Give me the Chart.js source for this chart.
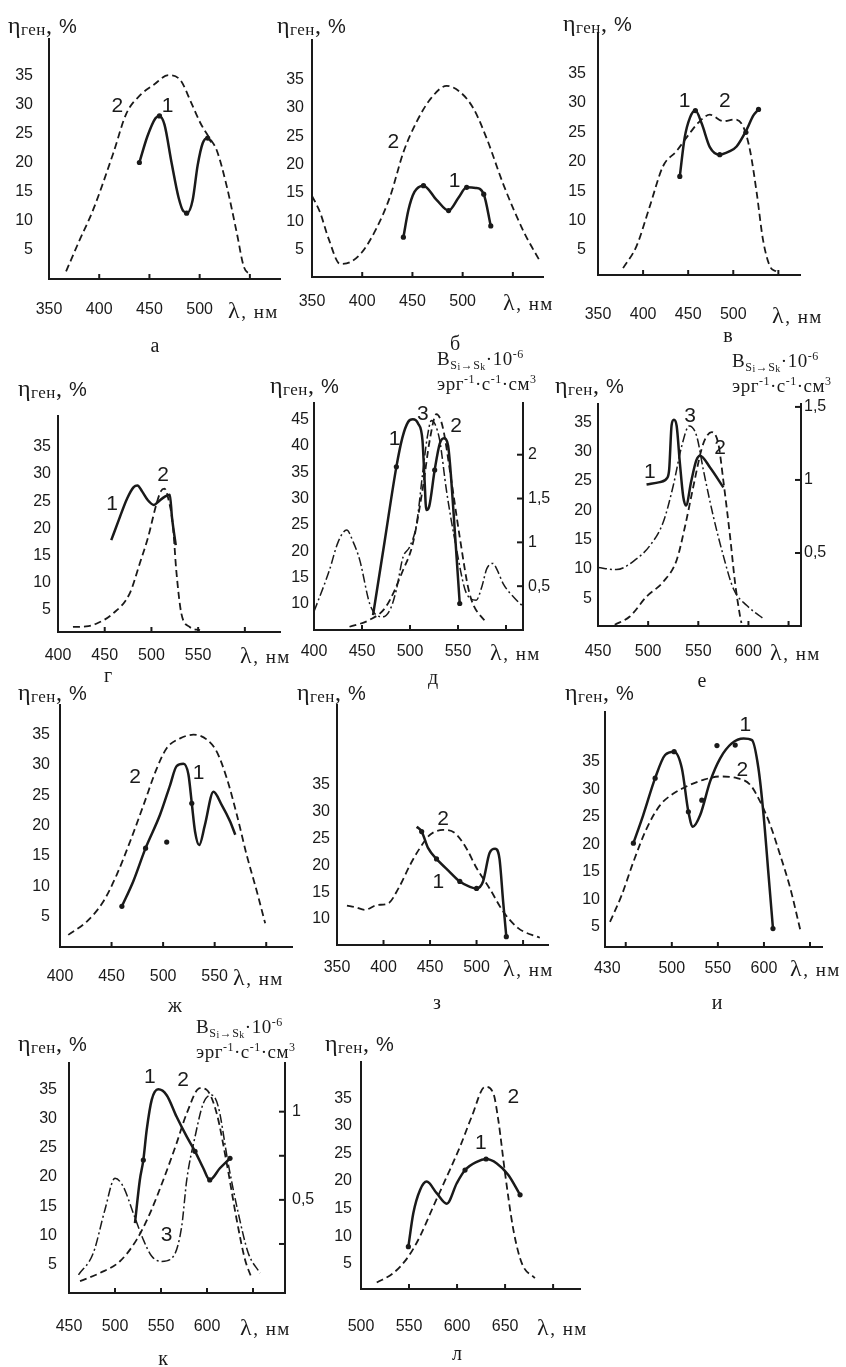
<!DOCTYPE html>
<html>
<head>
<meta charset="utf-8">
<script src="https://cdn.jsdelivr.net/npm/chart.js@4.4.1/dist/chart.umd.min.js"></script>
<style>
body { margin: 0; background: #fff; }
#page { position: relative; width: 846px; height: 1367px; overflow: hidden; background: #fff; }
canvas { position: absolute; }
.t { position: absolute; white-space: nowrap; color: #1a1a1a; line-height: 1; }
.yt { font-family: 'Liberation Serif', serif; font-size: 24px; letter-spacing: 0.5px; }
.yt sub { font-size: 17px; vertical-align: -2px; }
.pc { font-family: 'Liberation Sans', sans-serif; font-size: 20px; }
.xu { font-family: 'Liberation Serif', serif; font-size: 19px; letter-spacing: 1.5px; }
.xu .lam { font-size: 24px; }
.bt { font-family: 'Liberation Serif', serif; font-size: 19px; letter-spacing: 0.5px; }
.bt sub { font-size: 12px; vertical-align: -4px; }
.bt sub sub { font-size: 10px; vertical-align: -1px; }
.bt sup { font-size: 12px; vertical-align: 7px; }
.pl { font-family: 'Liberation Serif', serif; font-size: 20px; }
.cl { font-family: 'Liberation Sans', sans-serif; font-size: 21px; }
</style>
</head>
<body>
<div id="page"></div>
<script>
// подписи осей
const yl35 = [5, 10, 15, 20, 25, 30, 35];
const yl45 = [10, 15, 20, 25, 30, 35, 40, 45];
const yl35from10 = [10, 15, 20, 25, 30, 35];

// а
const a_c1 = [[440,20],[448,24.5],[456,27.6],[460,28],[465,26.5],[472,20],[479,14],[484,11.6],[488,11.4],[493,13.5],[498,19.5],[503,23.3],[508,24.2],[512,23.5]];
const a_c2 = [[367,1.3],[380,6.5],[394,11.9],[414,21.6],[427,28.4],[441,31.6],[454,33.3],[469,35],[481,34.1],[492,30.1],[501,26.7],[509,24.4],[517,22.1],[527,15.9],[537,7.9],[544,2.1],[551,0.7]];
const a_dots = [[440,20],[460,28],[487,11.3],[508,24.2]];
const a_lab = [['2',418,30.1],['1',468,30]];

// б
const b_c1 = [[441,7.2],[446,12],[452,15.2],[461,16.3],[474,13.8],[486,11.9],[496,14.2],[504,16],[513,15.9],[521,14.8],[528,9.2]];
const b_c2 = [[350,14.5],[358,11.6],[366.6,6.9],[378,2.5],[388,2.8],[399.5,4.5],[414,8.7],[428,14.5],[441,22.2],[454,27.5],[468,31.6],[484,33.9],[497.6,32.8],[510.8,29.9],[524,24.6],[541,16.3],[561,8.1],[577.5,2.8]];
const b_dots = [[441,7.2],[461,16.3],[486,11.9],[504,16],[521,14.8],[528,9.2]];
const b_lab = [['2',431,24.3],['1',492,17.5]];

// в
const c_c1 = [[440.7,17.5],[446,24],[452,27.5],[458,28.7],[465,26.5],[474,22.5],[485,21.2],[495,21.7],[503.7,22.6],[515,25.5],[522,27.8],[528,28.9]];
const c_c2 = [[377.8,1.9],[392.6,5.6],[407.4,12.4],[422,19.2],[437,21.8],[452,24.9],[461,26.6],[474,28],[489,26.9],[502,27.2],[511,26],[518.5,22],[526,14.7],[533,6.7],[540.7,2.2],[548,1.3]];
const c_dots = [[440.7,17.5],[458,28.7],[485,21.2],[514,25],[528,28.9]];
const c_lab = [['1',446,30.6],['2',490.7,30.6]];

// г
const d_c1 = [[457,17.8],[465,21.5],[474,25.5],[481,27.6],[485,27.9],[490,26.8],[496,25.2],[502.6,24.3],[508,25],[514,25.8],[519.7,26.2],[522,22],[526,16.9]];
const d_c2 = [[416,1.8],[430,1.9],[441,2.4],[459,4.3],[476.8,8],[487.5,13.5],[496.5,18.4],[505.4,24.5],[510,26.8],[514,27.3],[518,25.5],[523,20.5],[526.6,12.2],[532,4.3],[541,1.8],[552,1.2]];
const d_lab = [['1',458,24.8],['2',512.5,30.1]];

// д
const e_c1 = [[461.5,7.9],[473.6,21.9],[485.8,36],[492,41.5],[498,44.5],[503,45],[508.4,44.2],[513,41],[515,34.1],[517,27.8],[520,28.5],[525.7,35.4],[531,40.4],[535.4,41.4],[539.6,40.1],[543,33.5],[546.6,24],[551.8,10.1]];
const e_c2 = [[437,5.7],[458,7],[475,9.5],[492.7,16.4],[503,21.5],[513.5,32.2],[520.5,41],[527.5,46],[534,43.6],[543,33.5],[551.8,22.7],[562,12],[579.6,6.3]];
const e_c3 = [[400,0.21],[416,0.68],[425,1.0],[434,1.14],[441,1.0],[447.6,0.8],[458,0.3],[465,0.17],[472,0.15],[480,0.25],[485.8,0.46],[492.7,0.83],[499.7,0.95],[506.7,1.2],[513.5,1.82],[518,2.2],[522.3,2.39],[526,2.35],[531,2.16],[538,1.59],[548,0.95],[558.7,0.42],[569,0.34],[575,0.5],[580,0.7],[586.5,0.76],[591,0.68],[597,0.53],[611,0.34],[617.7,0.27]];
const e_dots = [[485.8,36],[525.7,35.4],[551.8,10.1]];
const e_lab = [['1',484,41.7],['3',513.5,46.4],['2',548,44.2]];

// е
const f_c1 = [[498.4,24.4],[511.7,24.8],[519,25.5],[521,27],[523.4,34.5],[525.7,35.4],[528.4,34.4],[531.7,27.9],[535,22.3],[537.7,20.8],[543,25],[548,28.5],[551.7,29.3],[561.7,27.3],[575,23.9]];
const f_c2 = [[466.7,0.5],[481.7,1.9],[498.4,5.3],[515,7.8],[528.4,11.5],[536.7,17.2],[545,24],[553.4,30.5],[558,32.5],[563.4,33.3],[570,31.3],[575,25],[581.7,15.5],[586.7,7.6],[591.7,1.9],[593,0.8]];
const f_c3 = [[450,0.4],[468.4,0.386],[488.4,0.46],[501.7,0.55],[515,0.71],[525,0.96],[533.4,1.23],[541,1.37],[548.4,1.3],[555,1.07],[565,0.75],[575,0.48],[585,0.255],[598.4,0.14],[615,0.05]];
const f_lab = [['1',501.7,26.8],['3',541.7,36.4],['2',571.7,31]];

// ж
const g_c1 = [[460,6.7],[471,10.8],[483,16.3],[497,21.8],[506.8,26.7],[513,29.8],[519.7,30.2],[524.6,28.4],[527.8,23.7],[531,19],[535,16.8],[540.5,20.1],[548.8,25.6],[556.9,23.4],[565,20.7],[570,18.5]];
const g_c2 = [[408,2],[426,4.2],[442,7.5],[455,11.9],[468,17.4],[481,23.4],[494,29.5],[503.6,32.8],[516.5,34.4],[529.4,35],[542.4,34.2],[552,32.2],[561.8,27.8],[571.5,21.8],[581,15.2],[591,9.1],[599,3.9]];
const g_dots = [[460,6.7],[483,16.3],[527.8,23.7],[503.5,17.3]];
const g_lab = [['2',472.8,28.4],['1',534.3,29]];

// з
const h_c1 = [[435.7,27.2],[441,26.3],[448,23.2],[457,21.2],[471,18.8],[482,17],[492.9,16],[500,15.7],[507,17],[514,22.3],[520,23.1],[524.6,21.3],[528.6,13.2],[532,6.7]];
const h_c2 = [[360.7,12.5],[370,12.2],[380,11.7],[392.9,12.6],[405,12.9],[416,15.7],[428.6,20.1],[439,23.2],[450,25.7],[464,26.6],[476.8,26],[489,23.2],[500,19.5],[514,15.7],[528.6,11.4],[544.7,8.3],[568,6.5]];
const h_dots = [[441,26.3],[457,21.2],[482,17],[500,15.7],[532,6.7]];
const h_lab = [['2',464,29],['1',459,17.3]];

// и
const i_c1 = [[458.3,20.2],[469,25.3],[481.9,32],[492.7,36.2],[502.5,36.8],[510.9,33.8],[518,25.9],[522.8,23.2],[530.8,25.3],[541.6,31.4],[552.5,35.6],[565,38.3],[577.9,39.2],[587,38.9],[594,33.8],[599.6,25.3],[605,14.4],[609.8,4.7]];
const i_c2 = [[432.9,5.9],[445.7,10.8],[458.3,16.8],[472.8,22.9],[487.3,27.1],[501.8,29.2],[516,30.5],[534.4,31.7],[552.5,32.3],[570.7,32],[585,30.8],[596,27.7],[606.8,23.5],[617.7,18],[628.6,12],[639.5,4.4]];
const i_dots = [[458.3,20.2],[481.9,32],[502.5,36.8],[518,25.9],[609.8,4.7],[549,37.9],[568.8,38],[532.6,28]];
const i_lab = [['1',579.7,42],['2',576.6,33.8]];

// к
const j_c1 = [[521.7,12.1],[527,19.5],[530.8,22.9],[534.5,28.1],[539.9,33.2],[547,35],[556.2,34],[567,30.3],[578,26.9],[587,24.4],[596,21.5],[603,19.5],[614,21.5],[625,23.2]];
const j_c2 = [[462,2.2],[483.7,3.6],[505.4,5.6],[523.6,9.3],[538,13.8],[552.5,19.5],[567,25.8],[578,30.9],[592.4,35.2],[599.7,34.9],[610.5,30.9],[621.4,22.4],[632.3,12.7],[641.3,5.9],[648.6,2.7]];
const j_c3 = [[460.3,0.075],[476.4,0.198],[489,0.443],[500,0.623],[509,0.575],[519.9,0.425],[530.8,0.274],[540,0.18],[550.8,0.151],[563.4,0.179],[572.5,0.349],[578,0.613],[587,0.858],[596,1.047],[605,1.094],[612.3,1.028],[623,0.708],[634,0.425],[644.9,0.198],[657.6,0.085]];
const j_dots = [[530.8,22.9],[587,24.4],[603,19.5],[625,23.2]];
const j_lab = [['1',538,37.4],['2',574,36.9],['3',556,10.4]];

// л
const k_c1 = [[549.3,8.1],[554.5,14.2],[561.5,18.4],[568.4,19.9],[578.8,17.8],[589.3,15.9],[599.7,19.6],[608.3,22],[620.5,23.5],[630.2,24],[641.4,23.2],[653.4,21.1],[665.6,17.5]];
const k_c2 = [[516.4,1.6],[533.6,3.3],[549.3,6.3],[561.5,10],[575.3,15.4],[589.3,20.8],[603,26.2],[615.3,31.7],[629.2,37.1],[637.8,35.9],[643,31],[650,21.4],[658.6,11.2],[667.4,5.1],[681,2.4]];
const k_dots = [[549.3,8.1],[608.3,22],[630.2,24],[665.6,17.5]];
const k_lab = [['2',658.6,35.6],['1',624.7,27.2]];

const INK = '#1a1a1a';
const YW = 60, RW = 60, PT = 30, PR = 30, XH = 60;
const page = document.getElementById('page');

Chart.defaults.font.family = "'Liberation Sans', Arial, sans-serif";
Chart.defaults.font.size = 16;
Chart.defaults.color = INK;

const lineStyles = {
  solid: { borderWidth: 2.5, borderDash: [] },
  dash: { borderWidth: 1.8, borderDash: [7, 4] },
  dashdot: { borderWidth: 1.5, borderDash: [9, 3, 2, 3] }
};

// панели: рамка области построения [left, top, right, bottom] в пикселях страницы
const panels = [
  { box: [49, 39, 280, 279], x: [350, 580], y: [0, 41.2], xl: [350,400,450,500], xm: [400,450,500,550], yl: yl35, xPad: 21, yPad: 16,
    series: [[a_c2,'dash'],[a_c1,'solid'],[a_dots,'dots']], lab: a_lab,
    title: [8, 25], unit: [228, 310], letter: ['а', 155, 345] },
  { box: [312, 40, 543, 277], x: [350, 580], y: [0.18, 42], xl: [350,400,450,500], xm: [400,450,500,550], yl: yl35, xPad: 15, yPad: 8,
    series: [[b_c2,'dash'],[b_c1,'solid'],[b_dots,'dots']], lab: b_lab,
    title: [277, 25], unit: [503, 302], letter: ['б', 455, 343] },
  { box: [598, 33, 800, 275], x: [350, 574], y: [0.73, 41.9], xl: [350,400,450,500], xm: [400,450,500,550], yl: yl35, xPad: 30, yPad: 12,
    series: [[c_c2,'dash'],[c_c1,'solid'],[c_dots,'dots']], lab: c_lab,
    title: [563, 23], unit: [772, 315], letter: ['в', 728, 335] },
  { box: [58, 416, 280, 632], x: [400, 637.6], y: [0.87, 40.7], xl: [400,450,500,550], xm: [450,500,550,600], yl: yl35, xPad: 14, yPad: 7,
    series: [[d_c2,'dash'],[d_c1,'solid']], lab: d_lab,
    title: [18, 388], unit: [240, 655], letter: ['г', 108, 675] },
  { box: [314, 403, 523, 630], x: [400, 617.7], y: [5.08, 48.1], xl: [400,450,500,550], xm: [450,500,550,600], yl: yl45, xPad: 12, yPad: 5,
    y2: { range: [0, 2.59], labels: [0.5,1,1.5,2], marks: [0.5,1,1.5,2], pad: 5 },
    series: [[e_c3,'dashdot','y2'],[e_c2,'dash'],[e_c1,'solid'],[e_dots,'dots']], lab: e_lab,
    title: [270, 385], unit: [490, 652], letter: ['д', 433, 677], btitle: [437, 360] },
  { box: [598, 404, 801, 626], x: [450, 652.4], y: [0.29, 38.1], xl: [450,500,550,600], xm: [500,550,600,640], yl: yl35, xPad: 16, yPad: 6,
    y2: { range: [0, 1.52], labels: [0.5,1,1.5], marks: [0.5,1,1.5], pad: 3 },
    series: [[f_c3,'dashdot','y2'],[f_c2,'dash'],[f_c1,'solid']], lab: f_lab,
    title: [555, 385], unit: [770, 652], letter: ['е', 702, 680], btitle: [732, 362] },
  { box: [60, 705, 292, 947], x: [400, 625], y: [0, 39.9], xl: [400,450,500,550], xm: [450,500,550,600], yl: yl35, xPad: 20, yPad: 10,
    series: [[g_c2,'dash'],[g_c1,'solid'],[g_dots,'dots']], lab: g_lab,
    title: [18, 692], unit: [233, 977], letter: ['ж', 175, 1005] },
  { box: [337, 705, 548, 945], x: [350, 576.8], y: [5.15, 49.9], xl: [350,400,450,500], xm: [400,450,500,550], yl: yl35from10, xPad: 13, yPad: 7,
    series: [[h_c2,'dash'],[h_c1,'solid'],[h_dots,'dots']], lab: h_lab,
    title: [297, 692], unit: [503, 968], letter: ['з', 437, 1002] },
  { box: [605, 712, 822, 947], x: [427.5, 663], y: [1.36, 44], xl: [430,500,550,600], xm: [450,500,550,600,650], yl: yl35, xPad: 12, yPad: 5,
    series: [[i_c2,'dash'],[i_c1,'solid'],[i_dots,'dots']], lab: i_lab,
    title: [565, 692], unit: [790, 968], letter: ['и', 717, 1002] },
  { box: [69, 1063, 285, 1293], x: [450, 684.8], y: [0.17, 39.5], xl: [450,500,550,600], xm: [500,550,600,650], yl: yl35, xPad: 24, yPad: 12,
    y2: { range: [-0.028, 1.276], labels: [0.5,1], marks: [0.25,0.5,0.75,1], pad: 7 },
    series: [[j_c3,'dashdot','y2'],[j_c2,'dash'],[j_c1,'solid'],[j_dots,'dots']], lab: j_lab,
    title: [18, 1043], unit: [240, 1327], letter: ['к', 163, 1358], btitle: [196, 1028] },
  { box: [361, 1062, 580, 1289], x: [500, 728], y: [0.42, 41.6], xl: [500,550,600,650], xm: [550,600,650,700], yl: yl35, xPad: 28, yPad: 9,
    series: [[k_c2,'dash'],[k_c1,'solid'],[k_dots,'dots']], lab: k_lab,
    title: [325, 1043], unit: [537, 1327], letter: ['л', 457, 1353] }
];

function addText(html, cls, x, y, center) {
  const d = document.createElement('div');
  d.className = 't ' + cls;
  d.innerHTML = html;
  d.style.left = x + 'px';
  d.style.top = y + 'px';
  d.style.transform = center ? 'translate(-50%,-50%)' : 'translateY(-50%)';
  page.appendChild(d);
}

function toPts(arr) {
  return arr.map(([x, y]) => ({ x: x, y: y }));
}

function buildPanel(p) {
  const [L, T, R, B] = p.box;
  const cv = document.createElement('canvas');
  cv.width = YW + (R - L) + (p.y2 ? RW : PR);
  cv.height = PT + (B - T) + XH;
  cv.style.left = (L - YW) + 'px';
  cv.style.top = (T - PT) + 'px';
  page.appendChild(cv);

  const datasets = p.series.map(([data, kind, axis]) => {
    if (kind === 'dots') {
      return { data: toPts(data), showLine: false, pointRadius: 2.6, pointBackgroundColor: INK, pointBorderWidth: 0, yAxisID: 'y' };
    }
    return Object.assign({
      data: toPts(data), borderColor: INK, pointRadius: 0, fill: false,
      cubicInterpolationMode: 'monotone', yAxisID: axis || 'y'
    }, lineStyles[kind]);
  });

  const scales = {
    x: {
      type: 'linear', min: p.x[0], max: p.x[1],
      afterFit: s => { s.height = XH; },
      afterBuildTicks: s => { s.ticks = p.xl.map(v => ({ value: v })); },
      grid: { display: false, drawTicks: false },
      border: { display: true, color: INK, width: 2 },
      ticks: { padding: p.xPad, autoSkip: false, maxRotation: 0, callback: v => String(v) }
    },
    y: {
      type: 'linear', position: 'left', min: p.y[0], max: p.y[1],
      afterFit: s => { s.width = YW; },
      afterBuildTicks: s => { s.ticks = p.yl.map(v => ({ value: v })); },
      grid: { display: false, drawTicks: false },
      border: { display: true, color: INK, width: 2 },
      ticks: { padding: p.yPad, autoSkip: false, callback: v => String(v) }
    }
  };
  if (p.y2) {
    scales.y2 = {
      type: 'linear', position: 'right', min: p.y2.range[0], max: p.y2.range[1],
      afterFit: s => { s.width = RW; },
      afterBuildTicks: s => { s.ticks = p.y2.labels.map(v => ({ value: v })); },
      grid: { display: false, drawTicks: false },
      border: { display: true, color: INK, width: 2 },
      ticks: { padding: p.y2.pad, autoSkip: false, callback: v => String(v).replace('.', ',') }
    };
  }

  const chart = new Chart(cv.getContext('2d'), {
    type: 'line',
    data: { datasets: datasets },
    options: {
      responsive: false,
      animation: false,
      devicePixelRatio: 1,
      layout: { padding: { left: 0, top: PT, right: p.y2 ? 0 : PR, bottom: 0 } },
      plugins: { legend: { display: false }, tooltip: { enabled: false } },
      scales: scales
    },
    plugins: [{
      id: 'marks',
      afterDraw(c) {
        const ctx = c.ctx, ca = c.chartArea;
        ctx.save();
        ctx.strokeStyle = INK;
        ctx.lineWidth = 2;
        p.xm.forEach(v => {
          const px = c.scales.x.getPixelForValue(v);
          ctx.beginPath(); ctx.moveTo(px, ca.bottom); ctx.lineTo(px, ca.bottom - 5); ctx.stroke();
        });
        if (p.y2) {
          p.y2.marks.forEach(v => {
            const py = c.scales.y2.getPixelForValue(v);
            ctx.beginPath(); ctx.moveTo(ca.right, py); ctx.lineTo(ca.right - 6, py); ctx.stroke();
          });
        }
        ctx.restore();
      }
    }]
  });

  const ox = L - YW, oy = T - PT;
  p.lab.forEach(([txt, x, y]) => {
    addText(txt, 'cl', ox + chart.scales.x.getPixelForValue(x), oy + chart.scales.y.getPixelForValue(y), true);
  });
  addText('η<sub>ген</sub>, <span class="pc">%</span>', 'yt', p.title[0], p.title[1], false);
  addText('<span class="lam">λ</span>, нм', 'xu', p.unit[0], p.unit[1], false);
  addText(p.letter[0], 'pl', p.letter[1], p.letter[2], true);
  if (p.btitle) {
    addText('B<sub>S<sub>i</sub>→S<sub>k</sub></sub>·10<sup>-6</sup>', 'bt', p.btitle[0], p.btitle[1], false);
    addText('эрг<sup>-1</sup>·с<sup>-1</sup>·см<sup>3</sup>', 'bt', p.btitle[0], p.btitle[1] + 23, false);
  }
}

panels.forEach(buildPanel);
</script>
</body>
</html>
